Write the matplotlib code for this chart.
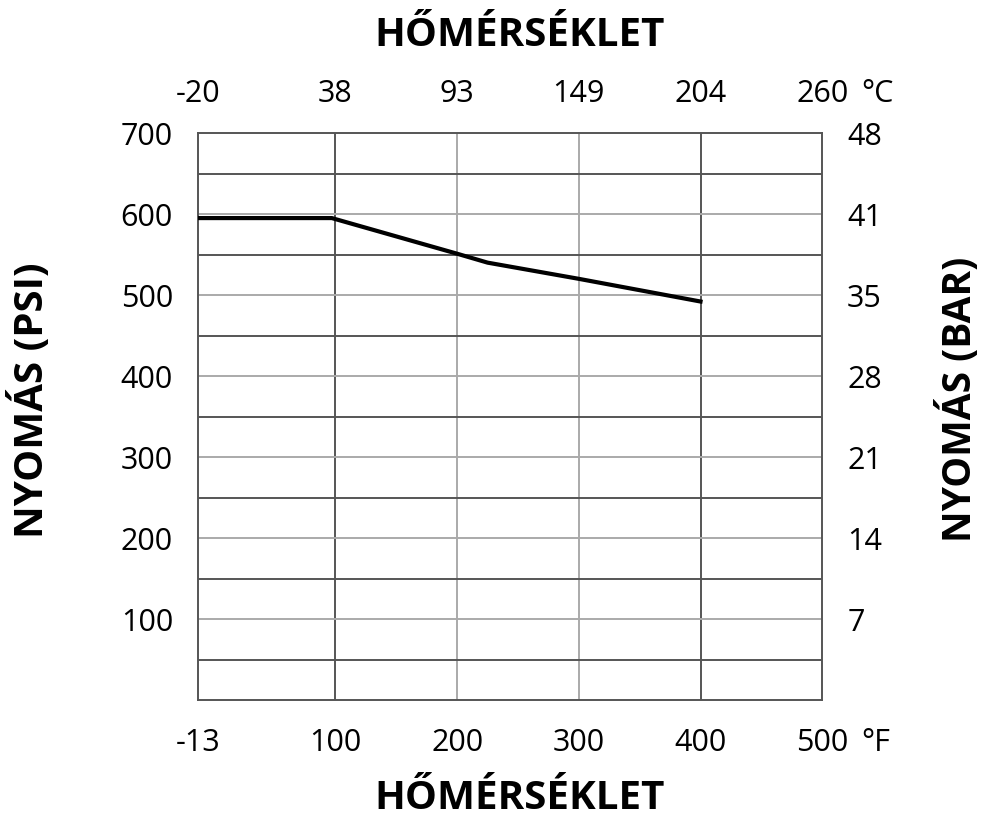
import matplotlib.pyplot as plt
from matplotlib.transforms import offset_copy

# nyomas - homerseklet gorbe
temp_f = [-13, 97, 200, 225, 300, 400]
psi = [595, 595, 551, 540, 520, 492]

f_ticks = [-13, 100, 200, 300, 400, 500]
c_labels = ['-20', '38', '93', '149', '204', '260']
psi_ticks = [100, 200, 300, 400, 500, 600, 700]
bar_labels = ['7', '14', '21', '28', '35', '41', '48']

font = 'Open Sans'
tsize = 22
fig = plt.figure(figsize=(9.83, 8.16), dpi=100)
ax = fig.add_axes([0.2014, 0.142, 0.635, 0.695])

# racsvonalak
for x in f_ticks[1:-1]:
    c = '#555555' if x in (100, 400) else '#aaaaaa'
    ax.axvline(x, color=c, lw=1.4, zorder=1)
for y in range(50, 700, 50):
    c = '#555555' if y % 100 == 50 else '#aaaaaa'
    ax.axhline(y, color=c, lw=1.4, zorder=1)

ax.plot(temp_f, psi, color='black', lw=3, zorder=3)

ax.set_xlim(-13, 500)
ax.set_ylim(0, 700)
for s in ax.spines.values():
    s.set_color('#555555')
    s.set_linewidth(1.4)

ax.set_xticks(f_ticks)
ax.set_xticklabels([str(v) for v in f_ticks], fontname=font, fontsize=tsize)
ax.set_yticks(psi_ticks)
ax.set_yticklabels([str(v) for v in psi_ticks], fontname=font, fontsize=tsize)
ax.tick_params(axis='x', length=0, pad=20)
ax.tick_params(axis='y', length=0, pad=18)

# felso tengely: Celsius
axt = ax.twiny()
axt.set_xlim(ax.get_xlim())
axt.set_xticks(f_ticks)
axt.set_xticklabels(c_labels, fontname=font, fontsize=tsize)
axt.tick_params(axis='x', length=0, pad=17)

# jobb tengely: bar
axr = ax.twinx()
axr.set_ylim(ax.get_ylim())
axr.set_yticks(psi_ticks)
axr.set_yticklabels(bar_labels, fontname=font, fontsize=tsize)
axr.tick_params(axis='y', length=0, pad=18)
for a in (axt, axr):
    for s in a.spines.values():
        s.set_visible(False)

# mertekegysegek a tengelyek vegen
tr_b = offset_copy(ax.transAxes, fig=fig, x=0, y=-20, units='points')
ax.text(1.062, 0, '°F', transform=tr_b, fontname=font, fontsize=tsize,
        va='top', ha='left')
tr_t = offset_copy(ax.transAxes, fig=fig, x=0, y=17, units='points')
ax.text(1.062, 1, '°C', transform=tr_t, fontname=font, fontsize=tsize,
        va='bottom', ha='left')

fig.text(0.529, 0.022, 'HŐMÉRSÉKLET', fontname=font, fontweight='bold', fontsize=29,
         ha='center', va='center')
fig.text(0.529, 0.957, 'HŐMÉRSÉKLET', fontname=font, fontweight='bold', fontsize=29,
         ha='center', va='center')
fig.text(0.031, 0.51, 'NYOMÁS (PSI)', fontname=font, fontweight='bold', fontsize=29,
         ha='center', va='center', rotation=90)
fig.text(0.975, 0.51, 'NYOMÁS (BAR)', fontname=font, fontweight='bold', fontsize=28,
         ha='center', va='center', rotation=90)

fig.savefig('out.png', dpi=100)
